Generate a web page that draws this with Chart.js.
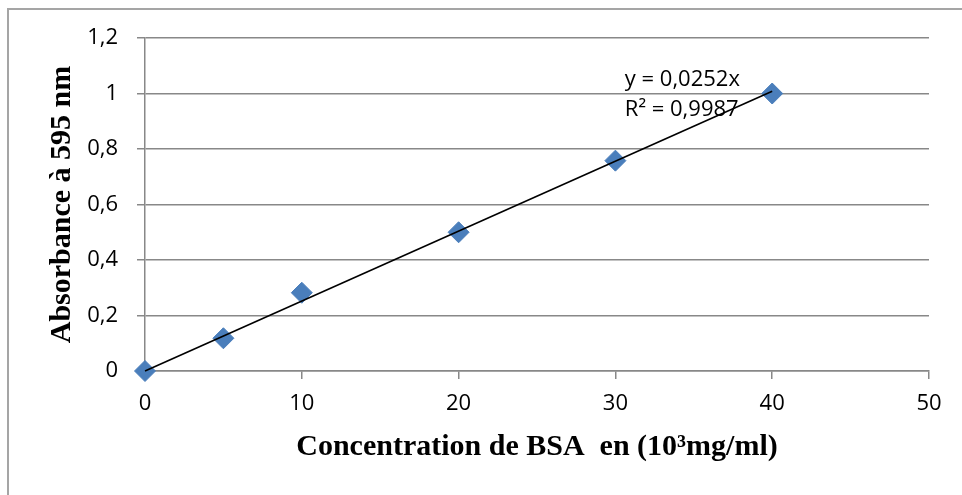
<!DOCTYPE html>
<html>
<head>
<meta charset="utf-8">
<script src="https://cdn.jsdelivr.net/npm/chart.js@4"></script>
<style>
  html, body { margin: 0; padding: 0; background: #fff; }
  #wrap { position: relative; width: 962px; height: 495px; overflow: hidden; }
  #frame { position: absolute; left: 7px; top: 8px; right: -4px; bottom: -4px; border-top: 2px solid #a5a5a5; border-left: 2px solid #a5a5a5; }
  #chart { position: absolute; left: 0; top: 0; }
</style>
</head>
<body>
<div id="wrap">
  <div id="frame"></div>
  <canvas id="chart" width="962" height="495"></canvas>
</div>
<script>
const concentrations = [0, 5, 10, 20, 30, 40];
const absorbances = [0, 0.118, 0.282, 0.5, 0.758, 1.0];
const trendX = [0, 40];
const trendY = [0, 1.008];
const yTickLabels = ['0', '0,2', '0,4', '0,6', '0,8', '1', '1,2'];
const xTickLabels = ['0', '10', '20', '30', '40', '50'];
const equationLines = ['y = 0,0252x', 'R² = 0,9987'];

// where the equation sits, in axis units
const eqAnchorX = 30.6;
const eqAnchorY = [1.027, 0.918];

const gridGrey = '#888888';
const markerBlue = '#4a7ebb';

const equationLabel = {
  id: 'equationLabel',
  afterDatasetsDraw(chart) {
    const { ctx, scales: { x, y } } = chart;
    ctx.save();
    ctx.font = '22px "Open Sans"';
    ctx.fillStyle = '#000';
    ctx.textBaseline = 'alphabetic';
    equationLines.forEach((t, i) => {
      ctx.fillText(t, x.getPixelForValue(eqAnchorX), y.getPixelForValue(eqAnchorY[i]));
    });
    ctx.restore();
  }
};

new Chart(document.getElementById('chart'), {
  type: 'scatter',
  data: {
    datasets: [
      {
        label: 'Absorbance',
        data: concentrations.map((c, i) => ({ x: c, y: absorbances[i] })),
        pointStyle: 'rectRot',
        pointRadius: 10.5,
        pointHoverRadius: 10.5,
        backgroundColor: markerBlue,
        borderColor: markerBlue,
        borderWidth: 1,
        clip: false,
        order: 2
      },
      {
        label: 'Linéaire',
        type: 'line',
        data: trendX.map((c, i) => ({ x: c, y: trendY[i] })),
        borderColor: '#000',
        borderWidth: 1.6,
        pointRadius: 0,
        fill: false,
        clip: false,
        order: 1
      }
    ]
  },
  options: {
    responsive: false,
    animation: false,
    layout: { padding: { top: 38, right: 33, left: 0, bottom: 0 } },
    plugins: {
      legend: { display: false },
      tooltip: { enabled: false }
    },
    scales: {
      x: {
        type: 'linear',
        min: 0,
        max: 50,
        afterFit: s => { s.height = 124; },
        ticks: {
          stepSize: 10,
          padding: 12,
          color: '#000',
          font: { family: '"Open Sans"', size: 22 },
          callback: (v, i) => xTickLabels[i]
        },
        grid: { drawOnChartArea: false, drawTicks: true, tickLength: 8, color: gridGrey, lineWidth: 1.5 },
        border: { display: true, color: gridGrey, width: 1.5 },
        title: {
          display: true,
          text: 'Concentration de BSA  en (10³mg/ml)',
          color: '#000',
          font: { family: '"Liberation Serif"', size: 30, weight: 'bold' },
          padding: { top: 0, bottom: 30 }
        }
      },
      y: {
        min: 0,
        max: 1.2,
        afterFit: s => { s.width = 145; },
        ticks: {
          stepSize: 0.2,
          padding: 19,
          color: '#000',
          font: { family: '"Open Sans"', size: 22 },
          callback: (v, i) => yTickLabels[i]
        },
        grid: { drawTicks: true, tickLength: 8, color: gridGrey, lineWidth: 1.5 },
        border: { display: true, color: gridGrey, width: 1.5 },
        title: {
          display: true,
          text: 'Absorbance à 595 nm',
          color: '#000',
          font: { family: '"Liberation Serif"', size: 30, weight: 'bold' },
          padding: { top: 44, bottom: 0 }
        }
      }
    }
  },
  plugins: [equationLabel]
});
</script>
</body>
</html>
